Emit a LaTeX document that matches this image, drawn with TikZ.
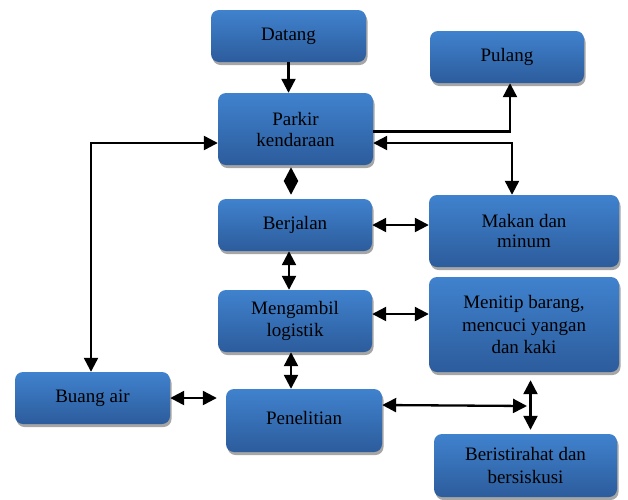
\documentclass[tikz,border=0pt]{standalone}
\usepackage{fontspec}
\setmainfont{Liberation Serif}
\usetikzlibrary{arrows.meta,shadows}
\definecolor{boxtop}{RGB}{64,130,206}
\definecolor{boxbot}{RGB}{44,92,156}
\begin{document}
\begin{tikzpicture}[x=1pt,y=-1pt,
  box/.style={draw=none, rounded corners=8pt, top color=boxtop, bottom color=boxbot,
    drop shadow={shadow xshift=1.5pt, shadow yshift=-3pt, fill=black, opacity=0.35},
    align=center, font=\fontsize{19}{22.5}\selectfont, text=black, inner sep=0pt},
  tip/.tip={Triangle[length=14pt,width=14pt]},
  arr/.style={line width=2.3pt, -{tip}},
  con/.style={line width=2.3pt, {tip}-{tip}},
  diam/.style={line width=2.3pt, {Triangle[length=14pt,width=14pt]}-{Triangle[length=14pt,width=14pt]}}
]
\useasboundingbox (0,0) rectangle (628,499);
\clip (0,0) rectangle (628,499);

\node[box, minimum width=155pt, minimum height=52pt] (datang) at (288.5,36) {Datang};
\node[box, minimum width=154pt, minimum height=52pt] (pulang) at (507,57) {Pulang};
\node[box, minimum width=155pt, minimum height=72pt] (parkir) at (295.5,129) {\raisebox{-1.5pt}{Parkir}\\kendaraan};
\node[box, minimum width=154pt, minimum height=52pt] (berjalan) at (295,225) {Berjalan};
\node[box, minimum width=190pt, minimum height=72pt] (makan) at (524,231) {\raisebox{-2pt}{Makan dan}\\minum};
\node[box, minimum width=154pt, minimum height=62pt] (ambil) at (295,321) {Mengambil\\logistik};
\node[box, minimum width=190pt, minimum height=95pt] (titip) at (524,324.5) {Menitip barang,\\mencuci yangan\\dan kaki};
\node[box, minimum width=155pt, minimum height=52pt] (buang) at (92.5,398) {Buang air};
\node[box, minimum width=156pt, minimum height=63pt] (teliti) at (304,420.5) {\raisebox{5pt}{Penelitian}};
\node[box, minimum width=183pt, minimum height=63pt] (istirahat) at (525.5,465.5) {Beristirahat dan\\bersiskusi};

\coordinate (j) at (527,406);
\coordinate (ae) at ([yshift=7pt]ambil.east);

\draw[arr] (datang.south) -- (datang.south |- parkir.north);
\draw[arr] ([yshift=-2.5pt]parkir.east) -| ([xshift=3pt]pulang.south);
\draw[con] ([yshift=-14pt]parkir.east) -| ([xshift=-12pt]makan.north);
\draw[con] ([yshift=-14pt]parkir.west) -| ([xshift=-1.5pt]buang.north);
\draw[diam, shorten <=2pt, shorten >=4pt] ([xshift=-4.5pt]parkir.south) -- ([xshift=-4.5pt]parkir.south |- berjalan.north);
\draw[con] (berjalan.east) -- (makan.west |- berjalan.east);
\draw[con] ([xshift=-6pt]berjalan.south) -- ([xshift=-6pt]berjalan.south |- ambil.north);
\draw[con] (ae) -- (titip.west |- ae);
\draw[con] ([xshift=-4pt]ambil.south) -- ([xshift=-4pt]ambil.south |- teliti.north);
\draw[con, shorten >=9pt] (buang.east) -- (teliti.west |- buang.east);
\draw[con] ([yshift=15.5pt]teliti.east) -- (j);
\draw[con, shorten <=8pt, shorten >=4pt] ([xshift=6.5pt]titip.south) -- ([xshift=6.5pt]titip.south |- istirahat.north);
\end{tikzpicture}
\end{document}
